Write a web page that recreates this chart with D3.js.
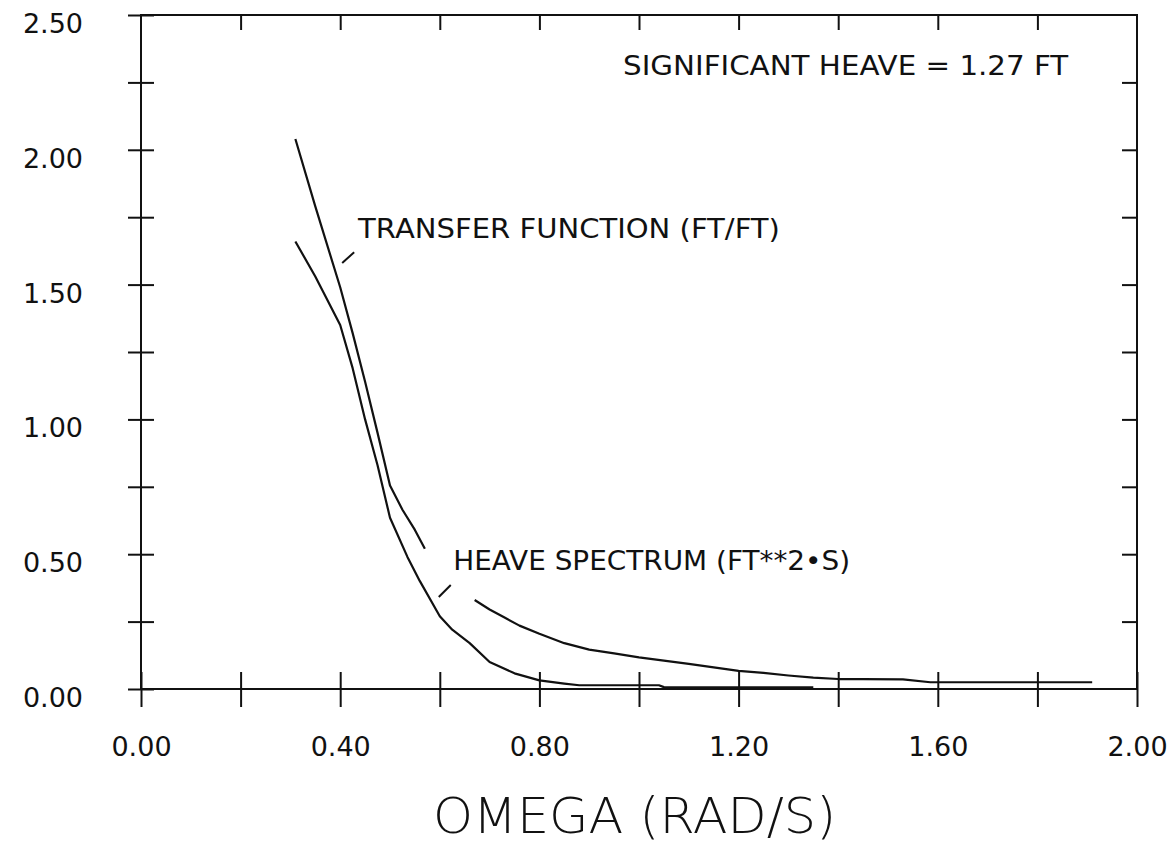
<!DOCTYPE html>
<html>
<head>
<meta charset="utf-8">
<script src="https://cdn.jsdelivr.net/npm/d3@7"></script>
<style>
  html, body { margin: 0; padding: 0; background: #fff; }
  svg { display: block; }
  text { font-family: "DejaVu Sans", sans-serif; fill: #111; }
</style>
</head>
<body>
<svg id="chart" width="1170" height="844"></svg>
<script>
// ---- Data ----
// Transfer function (FT/FT); null marks the break where the label sits
const tfOmega = [0.31, 0.35, 0.40, 0.425, 0.45, 0.475, 0.50, 0.525, 0.55, 0.57, 0.62,
                 0.67, 0.70, 0.73, 0.76, 0.80, 0.85, 0.90, 0.95, 1.00, 1.05, 1.10, 1.15,
                 1.20, 1.25, 1.30, 1.35, 1.40, 1.45, 1.53, 1.585, 1.70, 1.80, 1.91];
const tfValue = [2.04, 1.79, 1.49, 1.32, 1.14, 0.95, 0.755, 0.665, 0.59, 0.52, null,
                 0.33, 0.295, 0.265, 0.235, 0.205, 0.17, 0.146, 0.132, 0.117, 0.105, 0.093, 0.08,
                 0.067, 0.06, 0.05, 0.042, 0.037, 0.037, 0.036, 0.025, 0.025, 0.025, 0.025];

// Heave spectrum (FT**2·S)
const hsOmega = [0.31, 0.35, 0.40, 0.425, 0.45, 0.475, 0.50, 0.535, 0.56, 0.60, 0.625,
                 0.66, 0.70, 0.75, 0.80, 0.85, 0.88, 0.95, 1.04, 1.05, 1.20, 1.35];
const hsValue = [1.66, 1.53, 1.35, 1.19, 1.00, 0.83, 0.635, 0.49, 0.40, 0.27, 0.22,
                 0.17, 0.10, 0.058, 0.032, 0.02, 0.014, 0.014, 0.014, 0.007, 0.006, 0.006];

const xTickValues = [0, 0.2, 0.4, 0.6, 0.8, 1.0, 1.2, 1.4, 1.6, 1.8, 2.0];
const xTickLabels = ["0.00", "", "0.40", "", "0.80", "", "1.20", "", "1.60", "", "2.00"];
const yTickValues = [0, 0.25, 0.5, 0.75, 1.0, 1.25, 1.5, 1.75, 2.0, 2.25, 2.5];
const yTickLabels = ["0.00", "", "0.50", "", "1.00", "", "1.50", "", "2.00", "", "2.50"];

const xTitle = "OMEGA (RAD/S)";
const noteText = "SIGNIFICANT HEAVE = 1.27 FT";
const tfLabel = "TRANSFER FUNCTION (FT/FT)";
const hsLabel = "HEAVE SPECTRUM (FT**2\u2022S)";

(function () {
  // ---- Layout ----
  const svg = d3.select("#chart");
  const L = 141, R = 1137, T = 15, B = 689;
  const x = d3.scaleLinear().domain([0, 2]).range([L, R]);
  const y = d3.scaleLinear().domain([0, 2.5]).range([B, T]);

  svg.append("rect").attr("width", 1170).attr("height", 844).attr("fill", "#fff");

  // Frame
  svg.append("rect")
    .attr("x", L).attr("y", T).attr("width", R - L).attr("height", B - T)
    .attr("fill", "none").attr("stroke", "#111").attr("stroke-width", 2);

  // Bottom axis (ticks crossing the axis)
  const gBottom = svg.append("g").attr("transform", `translate(0,${B})`)
    .call(d3.axisBottom(x).tickValues(xTickValues).tickSizeInner(18).tickSizeOuter(0)
      .tickFormat((d, i) => xTickLabels[i]));
  gBottom.select(".domain").remove();
  gBottom.selectAll(".tick line").attr("y1", -17).attr("stroke", "#111").attr("stroke-width", 2);
  gBottom.selectAll(".tick text").attr("y", 58).attr("dy", "0.35em")
    .style("font-size", "27px").attr("font-family", null).attr("fill", "#111");

  // Left axis (ticks crossing)
  const gLeft = svg.append("g").attr("transform", `translate(${L},0)`)
    .call(d3.axisLeft(y).tickValues(yTickValues).tickSizeInner(13).tickSizeOuter(0)
      .tickFormat((d, i) => yTickLabels[i]));
  gLeft.select(".domain").remove();
  gLeft.selectAll(".tick line").attr("x1", 13).attr("stroke", "#111").attr("stroke-width", 2);
  gLeft.selectAll(".tick text").attr("x", -58).attr("y", 8).attr("dy", "0.35em")
    .attr("text-anchor", "end").style("font-size", "27px").attr("font-family", null).attr("fill", "#111");

  // Top axis: inward ticks only
  const gTop = svg.append("g").attr("transform", `translate(0,${T})`)
    .call(d3.axisTop(x).tickValues(xTickValues.slice(1, -1)).tickSizeInner(-15).tickSizeOuter(0)
      .tickFormat(""));
  gTop.select(".domain").remove();
  gTop.selectAll(".tick line").attr("stroke", "#111").attr("stroke-width", 2);

  // Right axis: inward ticks only
  const gRight = svg.append("g").attr("transform", `translate(${R},0)`)
    .call(d3.axisRight(y).tickValues(yTickValues.slice(1, -1)).tickSizeInner(-15).tickSizeOuter(0)
      .tickFormat(""));
  gRight.select(".domain").remove();
  gRight.selectAll(".tick line").attr("stroke", "#111").attr("stroke-width", 2);

  // Curves
  const line = d3.line()
    .defined(d => d[1] !== null)
    .x(d => x(d[0])).y(d => y(d[1]));

  svg.append("path")
    .datum(tfOmega.map((w, i) => [w, tfValue[i]]))
    .attr("d", line).attr("fill", "none").attr("stroke", "#111")
    .attr("stroke-width", 2.2).attr("stroke-linejoin", "round");

  svg.append("path")
    .datum(hsOmega.map((w, i) => [w, hsValue[i]]))
    .attr("d", line).attr("fill", "none").attr("stroke", "#111")
    .attr("stroke-width", 2.2).attr("stroke-linejoin", "round");

  // Annotations (placed in data units)
  function label(txt, wx, wy, wEnd, size) {
    svg.append("text")
      .attr("x", x(wx)).attr("y", y(wy))
      .attr("textLength", x(wEnd) - x(wx)).attr("lengthAdjust", "spacingAndGlyphs")
      .style("font-size", size + "px")
      .text(txt);
  }
  label(noteText, 0.968, 2.277, 1.862, 26);
  label(tfLabel, 0.436, 1.673, 1.283, 26);
  label(hsLabel, 0.627, 0.441, 1.424, 26);

  // Pointer ticks
  function pointer(x0, y0, x1, y1) {
    svg.append("line")
      .attr("x1", x(x0)).attr("y1", y(y0)).attr("x2", x(x1)).attr("y2", y(y1))
      .attr("stroke", "#111").attr("stroke-width", 2);
  }
  pointer(0.404, 1.580, 0.428, 1.620);
  pointer(0.598, 0.341, 0.622, 0.386);

  // X-axis title
  svg.append("text")
    .attr("x", 433).attr("y", 833)
    .attr("textLength", 403).attr("lengthAdjust", "spacingAndGlyphs")
    .style("font-size", "50px").style("font-weight", "300")
    .text(xTitle);
})();
</script>
</body>
</html>
